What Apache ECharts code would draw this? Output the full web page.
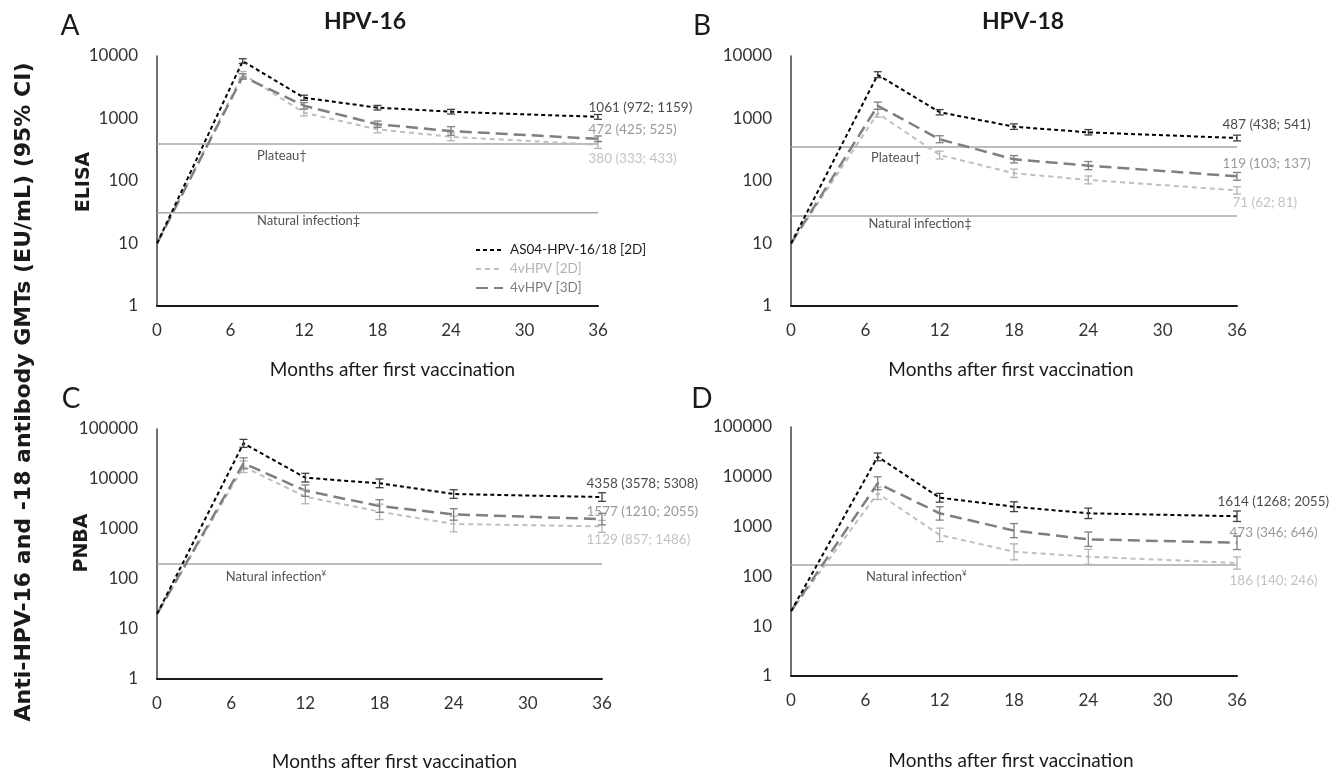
<!DOCTYPE html>
<html>
<head>
<meta charset="utf-8">
<script src="https://cdn.jsdelivr.net/npm/echarts@6/dist/echarts.min.js"></script>
<style>
  html, body { margin: 0; padding: 0; background: #fff; }
  #chart { width: 1341px; height: 774px; }
</style>
</head>
<body>
<div id="chart"></div>
<script>
// months after first vaccination
var months = [0, 7, 12, 18, 24, 36];
var seriesNames = ['AS04-HPV-16/18 [2D]', '4vHPV [2D]', '4vHPV [3D]'];

// A: HPV-16 ELISA
var a_as04 = [10, 8300, 2150, 1490, 1285, 1061];
var a_as04_lo = [null, 7600, 1960, 1370, 1180, 972];
var a_as04_hi = [null, 9050, 2360, 1620, 1400, 1159];
var a_2d = [10, 5100, 1240, 670, 510, 380];
var a_2d_lo = [null, 4600, 1100, 590, 440, 333];
var a_2d_hi = [null, 5650, 1400, 760, 590, 433];
var a_3d = [10, 4700, 1600, 810, 630, 472];
var a_3d_lo = [null, 4250, 1420, 720, 540, 425];
var a_3d_hi = [null, 5200, 1800, 910, 740, 525];
var a_plateau = 390;
var a_natural = 31;
var a_notes = ['1061 (972; 1159)', '380 (333; 433)', '472 (425; 525)'];

// B: HPV-18 ELISA
var b_as04 = [10, 5000, 1260, 740, 600, 487];
var b_as04_lo = [null, 4500, 1140, 670, 545, 438];
var b_as04_hi = [null, 5600, 1390, 820, 665, 541];
var b_2d = [10, 1210, 261, 133, 104, 71];
var b_2d_lo = [null, 1050, 225, 114, 90, 62];
var b_2d_hi = [null, 1400, 300, 155, 120, 81];
var b_3d = [10, 1600, 465, 222, 176, 119];
var b_3d_lo = [null, 1400, 410, 195, 152, 103];
var b_3d_hi = [null, 1830, 530, 255, 205, 137];
var b_plateau = 350;
var b_natural = 27.5;
var b_notes = ['487 (438; 541)', '71 (62; 81)', '119 (103; 137)'];

// C: HPV-16 PNBA
var c_as04 = [20, 51700, 10600, 8200, 5000, 4358];
var c_as04_lo = [null, 43000, 8700, 6700, 4100, 3578];
var c_as04_hi = [null, 62000, 13000, 10000, 6100, 5308];
var c_2d = [20, 17600, 4430, 2220, 1260, 1129];
var c_2d_lo = [null, 13500, 3200, 1550, 880, 857];
var c_2d_hi = [null, 23000, 6100, 3150, 1800, 1486];
var c_3d = [20, 20600, 5840, 2880, 1960, 1577];
var c_3d_lo = [null, 16000, 4500, 2150, 1500, 1210];
var c_3d_hi = [null, 26500, 7600, 3850, 2550, 2055];
var c_natural = 200;
var c_notes = ['4358 (3578; 5308)', '1129 (857; 1486)', '1577 (1210; 2055)'];

// D: HPV-18 PNBA
var d_as04 = [20, 25300, 3800, 2510, 1850, 1614];
var d_as04_lo = [null, 21000, 3100, 2000, 1450, 1268];
var d_as04_hi = [null, 30000, 4650, 3150, 2350, 2055];
var d_2d = [20, 4670, 680, 313, 249, 186];
var d_2d_lo = [null, 3500, 500, 215, 175, 140];
var d_2d_hi = [null, 6200, 930, 450, 350, 246];
var d_3d = [20, 7400, 1850, 830, 555, 473];
var d_3d_lo = [null, 5500, 1350, 600, 400, 346];
var d_3d_hi = [null, 10000, 2500, 1150, 780, 646];
var d_natural = 170;
var d_notes = ['1614 (1268; 2055)', '186 (140; 246)', '473 (346; 646)'];

var FONT = 'Lato, "Open Sans", sans-serif';
var colors = ['#000000', '#bfbfbf', '#7f7f7f'];
var textColors = ['#1a1a1a', '#b3b3b3', '#7f7f7f'];
var dashes = [[4, 3], [5, 4], [12, 6]];
var widths = [2, 2, 2.5];
var barColors = ['#404040', '#b3b3b3', '#7f7f7f'];

var panels = [
  {grid: {left: 157, top: 56, width: 441, height: 250}, max: 10000, gap: 54,
   vals: [a_as04, a_2d, a_3d], lo: [a_as04_lo, a_2d_lo, a_3d_lo], hi: [a_as04_hi, a_2d_hi, a_3d_hi],
   notes: a_notes, noteOff: [[-9, -9], [-9, 14], [-9, -9]], namePad: 30,
   refs: [{v: a_plateau, t: 'Plateau†', at: 8.2, dy: 12}, {v: a_natural, t: 'Natural infection‡', at: 8.2, dy: 9}]},
  {grid: {left: 791, top: 56, width: 446, height: 250}, max: 10000, gap: 54,
   vals: [b_as04, b_2d, b_3d], lo: [b_as04_lo, b_2d_lo, b_3d_lo], hi: [b_as04_hi, b_2d_hi, b_3d_hi],
   notes: b_notes, noteOff: [[-14, -13], [-4, 13], [-14, -12]], namePad: -6,
   refs: [{v: b_plateau, t: 'Plateau†', at: 6.5, dy: 11}, {v: b_natural, t: 'Natural infection‡', at: 6.3, dy: 8}]},
  {grid: {left: 157, top: 429, width: 445, height: 250}, max: 100000, gap: 73,
   vals: [c_as04, c_2d, c_3d], lo: [c_as04_lo, c_2d_lo, c_3d_lo], hi: [c_as04_hi, c_2d_hi, c_3d_hi],
   notes: c_notes, noteOff: [[-15, -13], [-15, 14], [-15, -7]], namePad: 30,
   refs: [{v: c_natural, t: 'Natural infection{s|¥}', at: 5.6, dy: 13}]},
  {grid: {left: 791, top: 427, width: 446, height: 249}, max: 100000, gap: 75,
   vals: [d_as04, d_2d, d_3d], lo: [d_as04_lo, d_2d_lo, d_3d_lo], hi: [d_as04_hi, d_2d_hi, d_3d_hi],
   notes: d_notes, noteOff: [[-19, -14], [-7, 18], [-7, -10]], namePad: -6,
   refs: [{v: d_natural, t: 'Natural infection{s|¥}', at: 6.1, dy: 12}]}
];

function errorBar(params, api) {
  var x = api.value(0);
  var p1 = api.coord([x, api.value(2)]);
  var p2 = api.coord([x, api.value(1)]);
  var w = 4;
  var st = {stroke: api.visual('color'), lineWidth: 1.3};
  return {type: 'group', children: [
    {type: 'line', shape: {x1: p1[0], y1: p1[1], x2: p2[0], y2: p2[1]}, style: st},
    {type: 'line', shape: {x1: p1[0] - w, y1: p1[1], x2: p1[0] + w, y2: p1[1]}, style: st},
    {type: 'line', shape: {x1: p2[0] - w, y1: p2[1], x2: p2[0] + w, y2: p2[1]}, style: st}
  ]};
}

var grids = [], xAxes = [], yAxes = [], series = [];
panels.forEach(function (p, i) {
  grids.push(p.grid);
  xAxes.push({
    type: 'value', gridIndex: i, min: 0, max: 36, interval: 6,
    axisLine: {lineStyle: {color: '#1a1a1a', width: 2}},
    axisTick: {show: false}, splitLine: {show: false},
    axisLabel: {fontSize: 17, color: '#333', margin: 16, fontFamily: FONT},
    name: 'Months after first vaccination', nameLocation: 'middle', nameGap: p.gap,
    nameTextStyle: {fontSize: 19, color: '#1a1a1a', fontFamily: FONT, padding: [0, 0, 0, p.namePad]}
  });
  yAxes.push({
    type: 'log', logBase: 10, gridIndex: i, min: 1, max: p.max,
    axisLine: {show: true, lineStyle: {color: '#404040', width: 1.5}},
    axisTick: {show: false}, splitLine: {show: false},
    axisLabel: {fontSize: 17, color: '#333', margin: 19, fontFamily: FONT,
      formatter: function (v) { return String(Math.round(v)); }}
  });

  // reference lines
  p.refs.forEach(function (r) {
    series.push({
      type: 'line', xAxisIndex: i, yAxisIndex: i, symbol: 'none', silent: true,
      data: [[0, r.v], [36, r.v]],
      lineStyle: {color: '#a6a6a6', width: 1.5}, z: 1
    });
    series.push({
      type: 'scatter', xAxisIndex: i, yAxisIndex: i, symbolSize: 1, silent: true,
      itemStyle: {color: 'transparent'},
      data: [[r.at, r.v]],
      label: {show: true, formatter: r.t, position: [0, r.dy], align: 'left', verticalAlign: 'middle',
        fontSize: 13, color: '#262626', fontFamily: FONT,
        rich: {s: {fontSize: 8, verticalAlign: 'top', color: '#262626', fontFamily: FONT, padding: [0, 0, 6, 0]}}}
    });
  });

  // drawing order: 4vHPV [2D], 4vHPV [3D], AS04
  [1, 2, 0].forEach(function (k) {
    series.push({
      name: seriesNames[k], type: 'line', xAxisIndex: i, yAxisIndex: i,
      symbol: 'none', data: months.map(function (m, j) { return [m, p.vals[k][j]]; }),
      lineStyle: {color: colors[k], width: widths[k], type: dashes[k]},
      itemStyle: {color: colors[k]}, z: 3
    });
    series.push({
      type: 'custom', xAxisIndex: i, yAxisIndex: i, renderItem: errorBar,
      itemStyle: {color: barColors[k]}, encode: {x: 0, y: [1, 2]}, z: 4,
      data: months.map(function (m, j) { return [m, p.lo[k][j], p.hi[k][j]]; })
        .filter(function (d) { return d[1] != null; })
    });
  });

  // values at 36 months
  series.push({
    type: 'scatter', xAxisIndex: i, yAxisIndex: i, symbolSize: 1, silent: true,
    itemStyle: {color: 'transparent'}, z: 5,
    data: [0, 1, 2].map(function (k) {
      var last = p.vals[k].length - 1;
      return {
        value: [months[last], p.vals[k][last]],
        label: {show: true, formatter: p.notes[k], position: p.noteOff[k], align: 'left',
          verticalAlign: 'middle', fontSize: 13.5, color: textColors[k], fontFamily: FONT}
      };
    })
  });
});

var txt = function (t, x, y, size, weight, family, rot) {
  return {type: 'text', x: x, y: y, rotation: rot || 0, silent: true,
    style: {text: t, x: 0, y: 0, fontSize: size, fontWeight: weight, fontFamily: family,
      fill: '#1a1a1a', textAlign: 'center', textVerticalAlign: 'middle', align: 'center', verticalAlign: 'middle'}};
};
var DV = '"DejaVu Sans", Verdana, sans-serif';

var option = {
  animation: false,
  backgroundColor: '#fff',
  grid: grids, xAxis: xAxes, yAxis: yAxes, series: series,
  legend: {
    orient: 'vertical', left: 470, top: 238, itemGap: 5, itemWidth: 27, itemHeight: 10,
    itemStyle: {color: 'transparent', borderColor: 'transparent', borderWidth: 0},
    data: seriesNames.map(function (n, k) {
      return {name: n, textStyle: {color: textColors[k]}};
    }),
    textStyle: {fontSize: 13.5, fontFamily: FONT, padding: [0, 0, 0, 2]}
  },
  graphic: [
    txt('A', 70, 26, 28, 'normal', FONT),
    txt('B', 702, 26, 28, 'normal', FONT),
    txt('C', 71, 399, 28, 'normal', FONT),
    txt('D', 702, 399, 28, 'normal', FONT),
    txt('HPV-16', 365, 22, 23, 'bold', FONT),
    txt('HPV-18', 1023, 22, 23, 'bold', FONT),
    txt('ELISA', 84, 182, 19, 'bold', DV, Math.PI / 2),
    txt('PNBA', 82, 543, 19, 'bold', DV, Math.PI / 2),
    txt('Anti-HPV-16 and -18 antibody GMTs (EU/mL) (95% CI)', 24, 392, 22, 'bold', DV, Math.PI / 2)
  ]
};

var chart = echarts.init(document.getElementById('chart'));
chart.setOption(option);
</script>
</body>
</html>
